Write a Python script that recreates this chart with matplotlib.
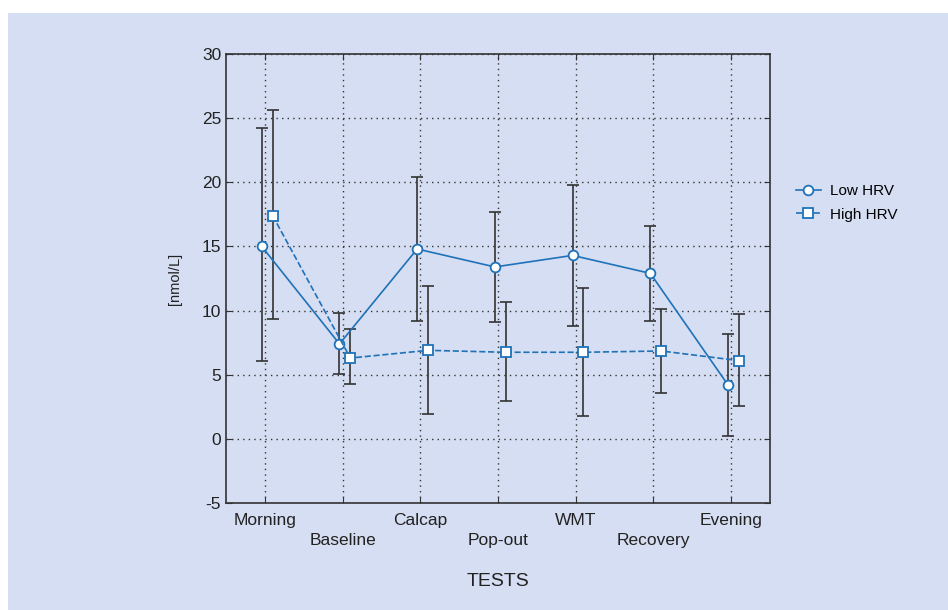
import numpy as np
import matplotlib.pyplot as plt
from matplotlib.patches import Rectangle

plt.rcParams['font.family'] = ['Liberation Sans', 'DejaVu Sans']
plt.rcParams['axes.unicode_minus'] = False

# data
tests = ['Morning', 'Baseline', 'Calcap', 'Pop-out', 'WMT', 'Recovery', 'Evening']
low_mean = [15.0, 7.4, 14.8, 13.4, 14.3, 12.9, 4.2]
low_top = [24.2, 9.8, 20.4, 17.7, 19.8, 16.6, 8.2]
low_bot = [6.1, 5.05, 9.2, 9.1, 8.8, 9.2, 0.2]
high_mean = [17.4, 6.3, 6.9, 6.75, 6.75, 6.85, 6.1]
high_top = [25.6, 8.55, 11.9, 10.65, 11.75, 10.15, 9.75]
high_bot = [9.35, 4.3, 1.95, 2.95, 1.8, 3.55, 2.6]

bg = '#d5def2'
blue = '#1f72b8'
dark = '#333333'

fig = plt.figure(figsize=(9.48, 6.10), dpi=100)
fig.patch.set_facecolor('white')
fig.patches.append(Rectangle((8 / 948, 0), 1, 597 / 610, transform=fig.transFigure,
                             facecolor=bg, edgecolor='none', zorder=-10))

ax = fig.add_axes([226 / 948, 1 - 503 / 610, (770 - 226) / 948, (503 - 54) / 610])
ax.set_facecolor(bg)

x = np.arange(1, len(tests) + 1)
xl = x - 0.04
xh = x + 0.10

low_mean = np.array(low_mean)
high_mean = np.array(high_mean)

ax.errorbar(xl, low_mean, yerr=[low_mean - np.array(low_bot), np.array(low_top) - low_mean],
            fmt='none', ecolor=dark, elinewidth=1.2, capsize=4, capthick=1.2, zorder=2)
ax.errorbar(xh, high_mean, yerr=[high_mean - np.array(high_bot), np.array(high_top) - high_mean],
            fmt='none', ecolor=dark, elinewidth=1.2, capsize=4, capthick=1.2, zorder=2)

ax.plot(xl, low_mean, '-', color=blue, lw=1.2, marker='o', ms=7, mfc='white',
        mec=blue, mew=1.3, label='Low HRV', zorder=3)
ax.plot(xh, high_mean, '--', color=blue, lw=1.2, marker='s', ms=7, mfc='white',
        mec=blue, mew=1.3, label='High HRV', zorder=3)

ax.set_xlim(0.5, 7.5)
ax.set_ylim(-5, 30)
ax.set_xticks(x)
ax.set_xticklabels([t if i % 2 == 0 else '\n' + t for i, t in enumerate(tests)],
                   fontsize=13.3, linespacing=1.4)
ax.set_yticks(np.arange(-5, 31, 5))
ax.tick_params(direction='in', length=4, color=dark, labelsize=12.5, labelcolor='#222222',
               top=True, right=True)
ax.tick_params(axis='x', pad=7)
ax.grid(True, linestyle=(0, (1, 3)), color='#333333', linewidth=1.0)
for s in ax.spines.values():
    s.set_color(dark)
    s.set_linewidth(1.2)

ax.set_ylabel('[nmol/L]', fontsize=10.5, color='#222222', labelpad=14)
ax.set_xlabel('TESTS', fontsize=14, color='#222222', labelpad=18)

ax.legend(loc='center left', bbox_to_anchor=(1.037, 0.668), frameon=False, fontsize=11,
          handlelength=1.6, handletextpad=0.6, labelspacing=0.6, borderaxespad=0)

fig.savefig('out.png', dpi=100, facecolor=fig.get_facecolor())
